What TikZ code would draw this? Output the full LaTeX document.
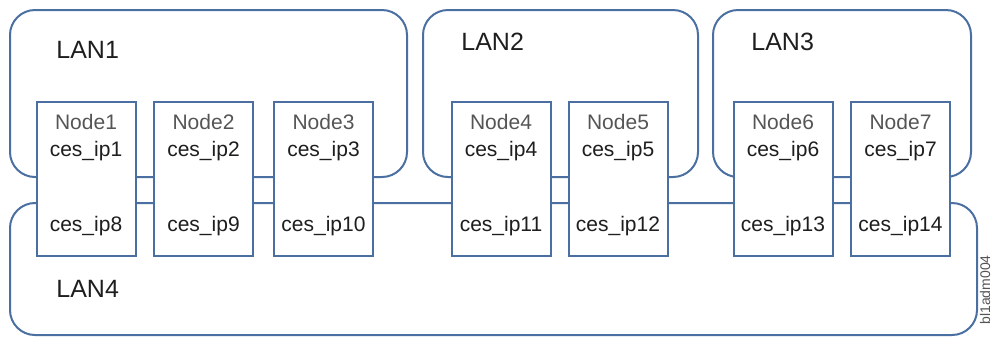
\documentclass[tikz,border=0pt]{standalone}
\usepackage{fontspec}
\setmainfont{Liberation Sans}
\usepackage{tikz}
\usetikzlibrary{positioning}
\usepackage{xcolor}
\definecolor{lanblue}{RGB}{74,111,160}
\definecolor{nodegray}{RGB}{85,85,85}
\definecolor{ipblack}{RGB}{30,30,30}

\begin{document}
\begin{tikzpicture}[x=0.5pt,y=-0.5pt,
	lanbox/.style={draw=lanblue,line width=1pt,rounded corners=12.5pt},
	hostbox/.style={draw=lanblue,line width=1pt,fill=white,minimum width=49.5pt,minimum height=77pt,inner sep=0pt},
	lanlabel/.style={anchor=base west,inner sep=0pt,font=\fontsize{12.5}{15}\selectfont,text=ipblack},
	hostname/.style={anchor=base,inner sep=0pt,font=\fontsize{10.5}{12}\selectfont,text=nodegray},
	iplabel/.style={anchor=base,inner sep=0pt,font=\fontsize{10.5}{12}\selectfont,text=ipblack}]
	\useasboundingbox (0,0) rectangle (994,339);
	\draw[lanbox] (10,10) rectangle (407,177);
	\draw[lanbox] (423,10) rectangle (698,177);
	\draw[lanbox] (713,10) rectangle (971,177);
	\draw[lanbox] (10,203) rectangle (977,335);
	\node[lanlabel] (lan1) at (56,58) {LAN1};
	\node[lanlabel] (lan2) at (461,50) {LAN2};
	\node[lanlabel] (lan3) at (751,50) {LAN3};
	\node[lanlabel] (lan4) at (56,297) {LAN4};
	\foreach \i/\x/\lo in {1/86/8,2/203.5/9,3/323.5/10,4/501/11,5/618/12,6/783/13,7/900.5/14}{
		\node[hostbox] (n\i) at (\x,179) {};
		\node[hostname] (name\i) at ([yshift=-14pt]n\i.north) {Node\i};
		\node[iplabel] (up\i) at ([yshift=-27.5pt]n\i.north) {ces\_ip\i};
		\node[iplabel] (lo\i) at ([yshift=-65pt]n\i.north) {ces\_ip\lo};
	}
	\node[rotate=90,inner sep=0pt,font=\fontsize{7}{8}\selectfont,text=nodegray] (tag) at (985,290) {bl1adm004};
\end{tikzpicture}
\end{document}
